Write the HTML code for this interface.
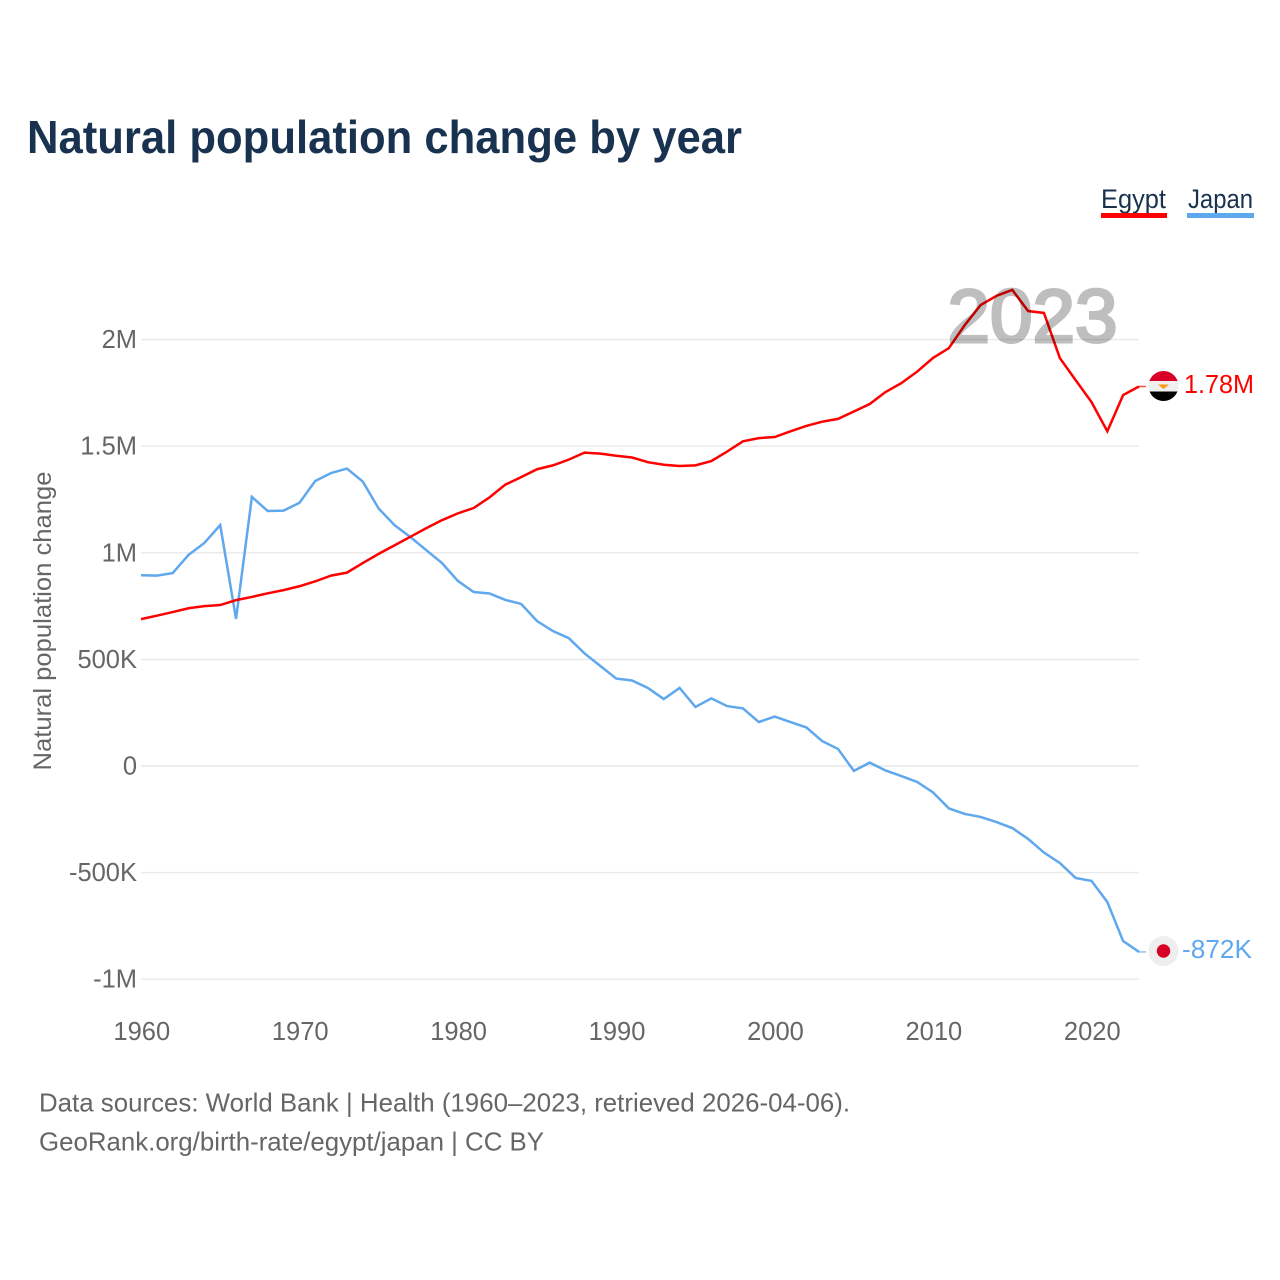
<!DOCTYPE html>
<html lang="en">
<head>
<meta charset="utf-8">
<title>Natural population change by year</title>
<style>
html,body{margin:0;padding:0;background:#fff;width:1280px;height:1280px;overflow:hidden}
svg{display:block}
text{font-family:"Liberation Sans",sans-serif}
</style>
</head>
<body>
<svg id="chart" xmlns="http://www.w3.org/2000/svg" width="1280" height="1280" viewBox="0 0 1280 1280">
  <rect width="1280" height="1280" fill="#fff"/>
  <text x="27" y="153" font-size="46" font-weight="bold" fill="#18324f" textLength="715" lengthAdjust="spacingAndGlyphs">Natural population change by year</text>

  <g>
    <text x="1101" y="208" font-size="27" fill="#18324f" textLength="65" lengthAdjust="spacingAndGlyphs">Egypt</text>
    <rect x="1101" y="213" width="66" height="5" fill="#ff0000"/>
  </g>
  <g>
    <text x="1188" y="208" font-size="27" fill="#18324f" textLength="65" lengthAdjust="spacingAndGlyphs">Japan</text>
    <rect x="1187" y="213" width="67" height="5" fill="#5fa8ee"/>
  </g>

  <g id="grid"></g>
  <g id="yticks"></g>
  <g id="xticks"></g>
  <text transform="translate(51,621) rotate(-90)" text-anchor="middle" font-size="25" fill="#666" textLength="299" lengthAdjust="spacingAndGlyphs">Natural population change</text>

  <g id="series"></g>

  <text id="year-label" x="1032.500" y="342" text-anchor="middle" font-size="75" fill="#000" stroke="#000" stroke-width="3" opacity="0.25" textLength="170" lengthAdjust="spacingAndGlyphs">2023</text>

  <defs>
    <clipPath id="egypt-clip"><circle cx="1163.500" cy="386" r="15"/></clipPath>
  </defs>
  <g clip-path="url(#egypt-clip)">
    <rect x="1148" y="370" width="31" height="11" fill="#d80027"/>
    <rect x="1148" y="381" width="31" height="10.500" fill="#f0f0f0"/>
    <rect x="1148" y="391.500" width="31" height="11" fill="#000"/>
    <path d="M1158 384.500h11l-5.500 4.500z" fill="#ff9811"/>
  </g>
  <g>
    <circle cx="1163.500" cy="951" r="15" fill="#eeeeee"/>
    <circle cx="1163.500" cy="951" r="6.700" fill="#d80027"/>
  </g>
  <text id="end-egypt" x="1184" y="393" font-size="25.500" fill="#ff0000" textLength="70" lengthAdjust="spacingAndGlyphs">1.78M</text>
  <text id="end-japan" x="1182" y="958" font-size="25.500" fill="#5fa8ee" textLength="70" lengthAdjust="spacingAndGlyphs">-872K</text>

  <text x="39" y="1111.500" font-size="26" fill="#666" textLength="811" lengthAdjust="spacingAndGlyphs">Data sources: World Bank | Health (1960–2023, retrieved 2026-04-06).</text>
  <text x="39" y="1150.500" font-size="26" fill="#666" textLength="505" lengthAdjust="spacingAndGlyphs">GeoRank.org/birth-rate/egypt/japan | CC BY</text>
</svg>
<script>
const years = [];
for (let yr = 1960; yr <= 2023; yr++) years.push(yr);
const egyptValues = [689,705,722,740,750,755,778,793,810,825,843,866,893,907,952,995,1035,1075,1115,1153,1185,1210,1260,1320,1355,1392,1410,1437,1470,1465,1455,1447,1425,1413,1407,1410,1430,1475,1523,1538,1543,1570,1595,1615,1628,1663,1698,1754,1796,1850,1914,1960,2068,2162,2205,2233,2134,2125,1914,1810,1707,1570,1740,1780];
const japanValues = [895,893,905,990,1046,1130,690,1262,1196,1198,1234,1337,1374,1395,1334,1208,1130,1074,1013,952,868,816,809,779,760,680,633,600,528,469,410,401,366,314,366,277,317,281,270,206,232,206,181,117,80,-23,16,-21,-47,-75,-124,-199,-225,-239,-263,-291,-342,-406,-455,-525,-539,-638,-821,-872];
const yTickValues = [2000,1500,1000,500,0,-500,-1000];
const yTickLabels = ["2M","1.5M","1M","500K","0","-500K","-1M"];
const xTickValues = [1960,1970,1980,1990,2000,2010,2020];

const NS = "http://www.w3.org/2000/svg";
function xScale(year){ return 141 + (year - 1960) * (998 / 63); }
function yScale(v){ return 766 - v * 0.2132; }
function make(tag, attrs, parent){
  const el = document.createElementNS(NS, tag);
  for (const k in attrs) el.setAttribute(k, attrs[k]);
  parent.appendChild(el);
  return el;
}

const grid = document.getElementById("grid");
const yticks = document.getElementById("yticks");
yTickValues.forEach(function(v, i){
  const ln = make("line", {x1:141, x2:1139, y1:yScale(v), y2:yScale(v), stroke:"#e9e9e9", "stroke-width":1.4}, grid);
  
  
  const t = make("text", {x:137, y:yScale(v)+8.500, "text-anchor":"end", "font-size":25.500, fill:"#666"}, yticks);
  t.textContent = yTickLabels[i];
  
  
});

const xticks = document.getElementById("xticks");
xTickValues.forEach(function(year){
  const t = make("text", {x:xScale(year)+0.800, y:1040, "text-anchor":"middle", "font-size":25.500, fill:"#666"}, xticks);
  t.textContent = String(year);
  
  
});

const seriesGroup = document.getElementById("series");
function drawSeries(values, color, name){
  const pts = values.map(function(v, i){ return xScale(years[i]).toFixed(2) + "," + yScale(v).toFixed(2); }).join(" ");
  const line = make("polyline", {points:pts, fill:"none", stroke:color, "stroke-width":2.500, "stroke-linejoin":"miter"}, seriesGroup);
  
  
  const lastY = yScale(values[values.length - 1]);
  const stub = make("line", {x1:1139, x2:1146, y1:lastY, y2:lastY, stroke:color, "stroke-width":1.500, "stroke-opacity":0.7}, seriesGroup);
  
  
}
drawSeries(japanValues, "#5fa8ee", "line-japan");
drawSeries(egyptValues, "#ff0000", "line-egypt");
</script>
</body>
</html>
